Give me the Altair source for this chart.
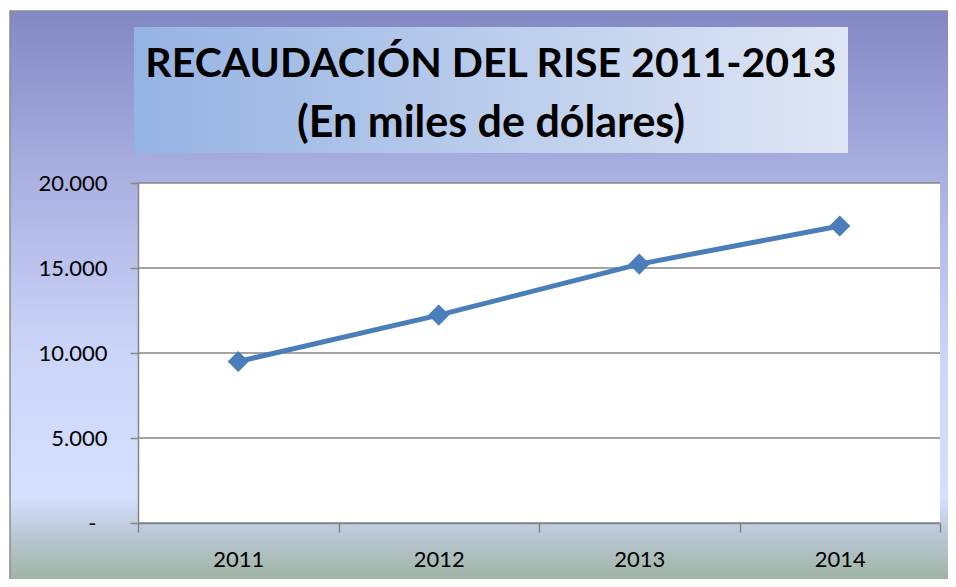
import altair as alt
import pandas as pd

# ---- data ----
years = [2011, 2012, 2013, 2014]
values = [9500, 12230, 15230, 17470]
y_ticks = [0, 5000, 10000, 15000, 20000]
x_ticks = [2010.5, 2011, 2011.5, 2012, 2012.5, 2013, 2013.5, 2014, 2014.5]
title_lines = ["RECAUDACIÓN DEL RISE 2011-2013", "(En miles de dólares)"]

df = pd.DataFrame({"year": years, "value": values})
grid_df = pd.DataFrame({"value": y_ticks})
one = pd.DataFrame({"a": [0]})

W, H = 802, 340
LINE = "#4a7ebb"
GRAY = "#868686"
FONT = "Lato"

xscale = alt.Scale(domain=[2010.5, 2014.5], nice=False, zero=False)
yscale = alt.Scale(domain=[0, 20000], nice=False)

y_axis = alt.Axis(
    values=y_ticks,
    labelExpr="datum.value == 0 ? '-' : replace(format(datum.value, ','), ',', '.')",
    grid=False,
    domainColor=GRAY,
    domainWidth=1.5,
    tickColor=GRAY,
    tickWidth=1.5,
    tickSize=8,
    labelFont=FONT,
    labelFontSize=22,
    labelColor="black",
    labelPadding={"condition": {"test": "datum.value == 0", "value": 34}, "value": 23},
    zindex=1,
)
x_axis = alt.Axis(
    values=x_ticks,
    labelExpr="datum.value % 1 === 0 ? toString(datum.value) : ''",
    tickOpacity={"condition": {"test": "datum.value % 1 === 0", "value": 0}, "value": 1},
    grid=False,
    domainColor=GRAY,
    domainWidth=1.5,
    tickColor=GRAY,
    tickWidth=1.5,
    tickSize=9,
    labelFont=FONT,
    labelFontSize=22,
    labelColor="black",
    labelPadding=17,
    zindex=1,
)

bg_grad = alt.Gradient(
    gradient="linear", x1=0, x2=0, y1=0, y2=1,
    stops=[
        alt.GradientStop(offset=0.0, color="#8388c4"),
        alt.GradientStop(offset=0.30, color="#abb1e1"),
        alt.GradientStop(offset=0.60, color="#cbd5f8"),
        alt.GradientStop(offset=0.85, color="#d5dffe"),
        alt.GradientStop(offset=0.915, color="#bac8d6"),
        alt.GradientStop(offset=1.0, color="#9db29f"),
    ],
)
title_grad = alt.Gradient(
    gradient="linear", x1=0, x2=1, y1=0, y2=0,
    stops=[
        alt.GradientStop(offset=0.0, color="#95b3e3"),
        alt.GradientStop(offset=1.0, color="#dfe6f4"),
    ],
)

background = alt.Chart(one).mark_rect(
    fill=bg_grad, stroke="#8c8c8c", strokeWidth=1.5
).encode(x=alt.value(-128), x2=alt.value(W + 12), y=alt.value(-172), y2=alt.value(H + 60))

plot_bg = alt.Chart(one).mark_rect(fill="white").encode(
    x=alt.value(0), x2=alt.value(W), y=alt.value(0), y2=alt.value(H)
)

grid = alt.Chart(grid_df).mark_rule(color=GRAY, strokeWidth=1.5).encode(
    y=alt.Y("value:Q", scale=yscale, title=None, axis=y_axis)
)

line = alt.Chart(df).mark_line(color=LINE, strokeWidth=5).encode(
    x=alt.X("year:Q", scale=xscale, title=None, axis=x_axis),
    y=alt.Y("value:Q", scale=yscale, title=None, axis=y_axis),
)

points = alt.Chart(df).mark_point(
    shape="diamond", filled=True, size=450, color=LINE, opacity=1
).encode(
    x=alt.X("year:Q", scale=xscale, title=None, axis=x_axis),
    y=alt.Y("value:Q", scale=yscale, title=None, axis=y_axis),
)

title_box = alt.Chart(one).mark_rect(fill=title_grad).encode(
    x=alt.value(-4), x2=alt.value(710), y=alt.value(-156), y2=alt.value(-30)
)

t1 = alt.Chart(one).mark_text(
    text=title_lines[0], font=FONT, fontWeight="bold", fontSize=41,
    align="center", baseline="alphabetic", color="black"
).encode(x=alt.value(353), y=alt.value(-106))

t2 = alt.Chart(one).mark_text(
    text=title_lines[1], font=FONT, fontWeight="bold", fontSize=43,
    align="center", baseline="alphabetic", color="black"
).encode(x=alt.value(353), y=alt.value(-46))

chart = alt.layer(
    background, plot_bg, grid, line, points, title_box, t1, t2
).properties(
    width=W,
    height=H,
    autosize=alt.AutoSizeParams(type="none"),
    padding={"left": 130, "top": 175, "right": 8, "bottom": 56},
    background="white",
).configure_view(strokeWidth=0)

chart.save("out.html", embed_options={"renderer": "svg", "actions": False})
